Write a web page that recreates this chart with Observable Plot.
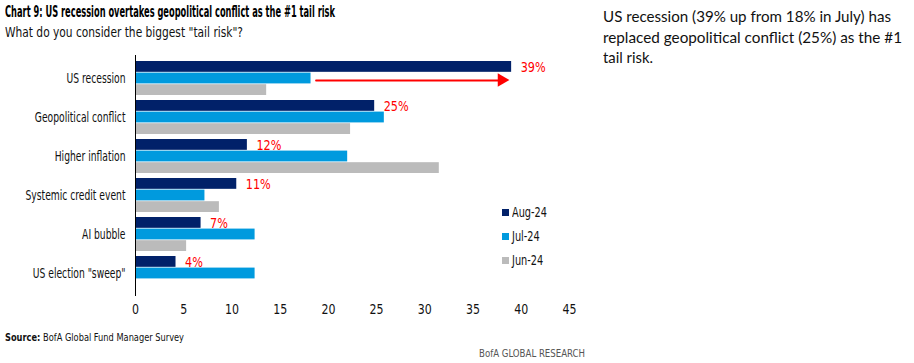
<!DOCTYPE html>
<html>
<head>
<meta charset="utf-8">
<script src="https://cdn.jsdelivr.net/npm/d3@7"></script>
<script src="https://cdn.jsdelivr.net/npm/@observablehq/plot@0.6"></script>
<style>
  html, body { margin: 0; padding: 0; background: #fff; }
  #page { position: relative; width: 914px; height: 363px; overflow: hidden; font-family: "DejaVu Sans Condensed", "Liberation Sans", sans-serif; color: #111; }
  .abs { position: absolute; white-space: nowrap; transform-origin: 0 0; }
  #title { left: 5px; top: 3px; font-weight: bold; font-size: 15px; color: #000; }
  #subtitle { left: 5px; top: 24px; font-size: 13.5px; color: #111; }
  #chart { position: absolute; left: 0; top: 45px; }
  #legend { position: absolute; left: 502px; top: 200px; font-size: 14px; }
  #legend .row { height: 24px; display: flex; align-items: center; }
  #legend .sw { width: 7px; height: 7px; margin-right: 3px; flex: none; }
  #legend .lt { display: inline-block; transform-origin: 0 50%; white-space: nowrap; }
  .note { left: 603px; font-family: "Lato", "Noto Sans", sans-serif; font-size: 15px; color: #111; }
  #source { left: 5px; top: 331px; font-size: 11px; color: #111; }
  #brand { left: 479px; top: 347px; font-size: 11px; color: #555; }
</style>
</head>
<body>
<div id="page">
  <div id="title" class="abs">Chart 9: US recession overtakes geopolitical conflict as the #1 tail risk</div>
  <div id="subtitle" class="abs">What do you consider the biggest "tail risk"?</div>
  <div id="chart"></div>
  <div id="legend"></div>
  <div id="n1" class="abs note" style="top:7px">US recession (39% up from 18% in July) has</div>
  <div id="n2" class="abs note" style="top:27.5px">replaced geopolitical conflict (25%) as the #1</div>
  <div id="n3" class="abs note" style="top:48px">tail risk.</div>
  <div id="source" class="abs"><b>Source:</b> BofA Global Fund Manager Survey</div>
  <div id="brand" class="abs">BofA GLOBAL RESEARCH</div>
</div>
<script>
// ---- data ----
const categories = ["US recession", "Geopolitical conflict", "Higher inflation", "Systemic credit event", "AI bubble", "US election \"sweep\""];
const series = ["Aug-24", "Jul-24", "Jun-24"];
const aug = [39, 24.8, 11.6, 10.5, 6.8, 4.2];
const jul = [18.2, 25.8, 22.0, 7.2, 12.4, 12.4];
const jun = [13.6, 22.3, 31.5, 8.7, 5.3, null];
const augLabels = ["39%", "25%", "12%", "11%", "7%", "4%"];
const xTicks = [0, 5, 10, 15, 20, 25, 30, 35, 40, 45];
const colors = ["#012169", "#009ADE", "#BBBBBB"];

const rows = categories.map((c, i) => ({category: c, aug: aug[i], jul: jul[i], jun: jun[i], label: augLabels[i]}));

// ---- layout ----
const W = 600, H = 280, mT = 10, mB = 29, mL = 135, mR = 31;
const pIn = 0.13, pOut = 0.08;
const step = (H - mT - mB) / (categories.length - pIn + 2 * pOut);
const band = step * (1 - pIn);
const b3 = band / 3;
const font = '"DejaVu Sans Condensed", "Liberation Sans", sans-serif';
const red = "#FF0000";

const chart = Plot.plot({
  width: W, height: H,
  marginTop: mT, marginBottom: mB, marginLeft: mL, marginRight: mR,
  style: {fontFamily: font, fontSize: "13px", color: "#111", background: "transparent"},
  x: {domain: [0, 45]},
  y: {domain: categories, paddingInner: pIn, paddingOuter: pOut},
  marks: [
    Plot.barX(rows, {x: "aug", y: "category", fill: colors[0], insetBottom: 2 * b3}),
    Plot.barX(rows, {x: "jul", y: "category", fill: colors[1], insetTop: b3, insetBottom: b3}),
    Plot.barX(rows.filter(d => d.jun != null), {x: "jun", y: "category", fill: colors[2], insetTop: 2 * b3}),
    Plot.ruleX([0], {stroke: "#000", strokeWidth: 1}),
    Plot.text(rows, {x: "aug", y: "category", text: "label", dy: -b3, dx: 9, textAnchor: "start", fill: red, fontSize: 14.5}),
    Plot.arrow(rows.slice(0, 1), {x1: "jul", x2: "aug", y1: "category", y2: "category", dy: 2, insetStart: 5, insetEnd: 12, stroke: red, strokeWidth: 1.8, headLength: 0}),
    Plot.dot(rows.slice(0, 1), {x: "aug", y: "category", dy: 1.5, dx: -10, symbol: "triangle", rotate: 90, r: 5, fill: red, stroke: null}),
    Plot.axisX({ticks: xTicks, tickSize: 0, tickPadding: 8, label: null, fontSize: 13.5, fill: "#111"}),
    Plot.axisY({tickSize: 0, tickPadding: 10, label: null, fontSize: 13.5, fill: "#111"})
  ]
});
document.getElementById("chart").appendChild(chart);

// condense SVG texts to the reference's narrow face
function condense(sel, refText, target) {
  const nodes = [...chart.querySelectorAll(sel)];
  const ref = nodes.find(n => n.textContent === refText);
  if (!ref) return;
  const k = target / ref.getComputedTextLength();
  nodes.forEach(n => {
    n.setAttribute("textLength", n.getComputedTextLength() * k);
    n.setAttribute("lengthAdjust", "spacingAndGlyphs");
  });
}
condense('g[aria-label="y-axis tick label"] text', "Systemic credit event", 100);
condense('g[aria-label="x-axis tick label"] text', "45", 14);
condense('g[aria-label="text"] text', "39%", 25);

// legend
const leg = document.getElementById("legend");
series.forEach((s, i) => {
  const r = document.createElement("div");
  r.className = "row";
  r.innerHTML = `<span class="sw" style="background:${colors[i]}"></span><span class="lt">${s}</span>`;
  leg.appendChild(r);
});
const lts = [...leg.querySelectorAll(".lt")];
const lk = 35 / lts[0].getBoundingClientRect().width;
lts.forEach(el => el.style.transform = `scaleX(${lk})`);

// fit text widths to reference
function fit(id, w) {
  const el = document.getElementById(id);
  const cur = el.getBoundingClientRect().width;
  if (cur > 0) el.style.transform = `scaleX(${w / cur})`;
}
fit("title", 330);
fit("subtitle", 238);
fit("n1", 288);
fit("n2", 299);
fit("n3", 50);
fit("source", 179);
fit("brand", 106);
</script>
</body>
</html>
